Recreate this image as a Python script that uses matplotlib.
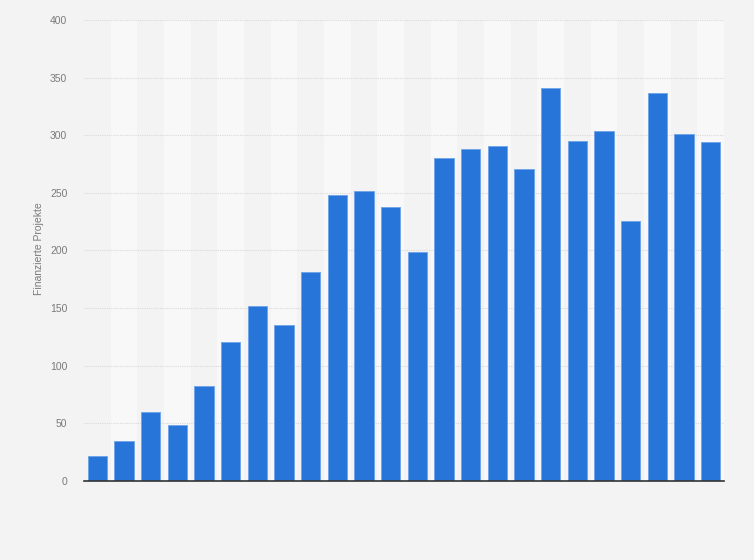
import matplotlib
matplotlib.use("Agg")
import matplotlib.pyplot as plt
import numpy as np

plt.rcParams["font.family"] = ["Liberation Sans", "DejaVu Sans"]

categories = [f"K{i}" for i in range(1, 25)]
values = [22, 35, 60, 49, 82, 121, 152, 135, 181, 248, 252, 238, 199, 280,
          288, 291, 271, 341, 295, 304, 226, 337, 301, 294]
yticks = [0, 50, 100, 150, 200, 250, 300, 350, 400]
ylabel = "Finanzierte Projekte"

bg = "#f3f3f3"
band = "#f8f8f8"
bar_color = "#2775d9"

fig = plt.figure(figsize=(7.54, 5.6), dpi=100, facecolor=bg)
ax = fig.add_axes([84/754, 1 - 481/560, 640/754, 461/560])
ax.set_facecolor(bg)

x = np.arange(len(categories))
for i in x:
    if i % 2 == 1:
        ax.axvspan(i - 0.5, i + 0.5, color=band, zorder=0, lw=0)

for t in yticks[1:]:
    ax.axhline(t, color="#dadada", lw=0.8, ls=(0, (1, 1)), zorder=1)

ax.bar(x, values, width=0.72, color=bar_color, edgecolor="#6ea3e8",
       linewidth=0.6, zorder=3)

ax.set_xlim(-0.5, len(categories) - 0.5)
ax.set_ylim(0, 400)
ax.set_yticks(yticks)
ax.set_yticklabels([str(t) for t in yticks], fontsize=7.5, color="#7a7a7a")
ax.set_xticks([])
ax.tick_params(axis="y", length=0, pad=12)
for s in ["top", "right", "left"]:
    ax.spines[s].set_visible(False)
ax.spines["bottom"].set_color("#333333")
ax.spines["bottom"].set_linewidth(1.2)
ax.spines["bottom"].set_zorder(4)

fig.text(39/754, 1 - 249/560, ylabel, rotation=90, ha="center", va="center",
         fontsize=7.5, color="#7a7a7a")

fig.savefig("out.png", dpi=100, facecolor=bg)
